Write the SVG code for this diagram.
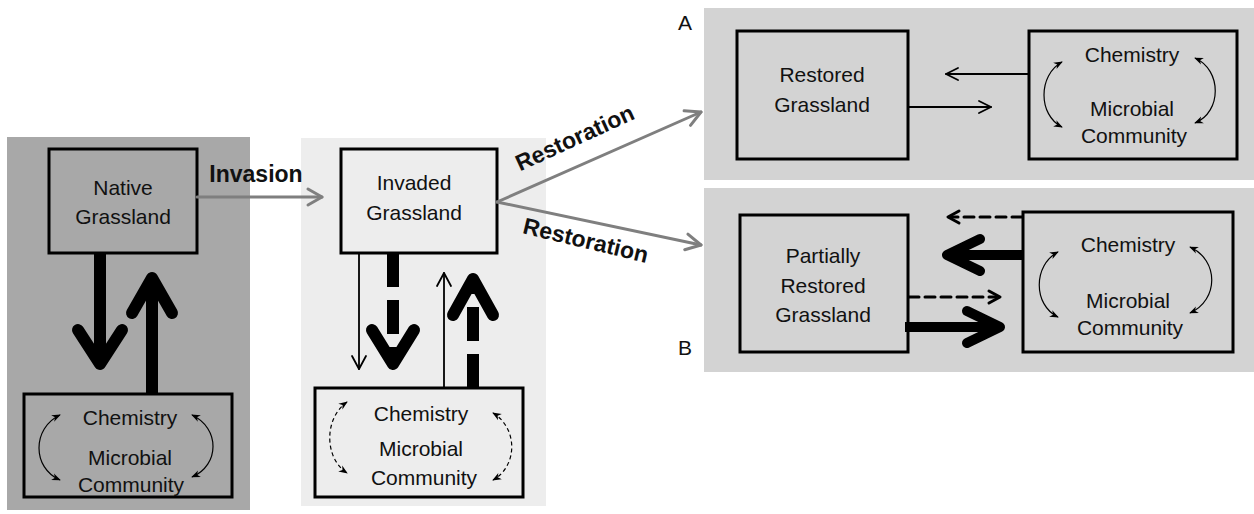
<svg xmlns="http://www.w3.org/2000/svg" width="1254" height="514" viewBox="0 0 1254 514">
<style>
  .t { font-family: "Liberation Sans", Arial, sans-serif; font-size: 21px; fill: #111; text-anchor: middle; }
  .b { font-family: "Liberation Sans", Arial, sans-serif; font-size: 23px; font-weight: bold; fill: #111; text-anchor: middle; }
  .lbl { font-family: "Liberation Sans", Arial, sans-serif; font-size: 21px; fill: #111; text-anchor: middle; }
  .box { fill: none; stroke: #000; stroke-width: 3; }
  .thin { fill: none; stroke: #000; stroke-width: 1.8; stroke-linecap: round; stroke-linejoin: round; }
  .thick { fill: none; stroke: #000; stroke-width: 12; stroke-linecap: round; stroke-linejoin: round; }
  .shaft { fill: none; stroke: #000; stroke-width: 12; }
  .dsh { stroke-dasharray: 34 13; }
  .gray { fill: none; stroke: #7f7f7f; stroke-width: 3; stroke-linecap: round; stroke-linejoin: round; }
  .curve { fill: none; stroke: #000; stroke-width: 1.2; marker-start: url(#ah); marker-end: url(#ah); }
  .dcurve { stroke-dasharray: 4 3; }
  .med { fill: none; stroke: #000; stroke-width: 3; stroke-linecap: round; stroke-linejoin: round; }
  .heavy { fill: none; stroke: #000; stroke-width: 10; stroke-linecap: round; stroke-linejoin: round; }
</style>
<defs>
  <marker id="ah" viewBox="0 0 10 10" refX="9" refY="5" markerWidth="9" markerHeight="9" markerUnits="userSpaceOnUse" orient="auto-start-reverse">
    <path d="M0,1 L10,5 L0,9 L3,5 z" fill="#000"/>
  </marker>
</defs>
<rect width="1254" height="514" fill="#fff"/>
<!-- panels -->
<rect id="panel-native" x="7" y="137" width="243" height="373" fill="#a8a8a8"/>
<rect id="panel-invaded" x="301" y="138" width="245" height="368" fill="#ededed"/>
<rect id="panel-A" x="704" y="8" width="550" height="172" fill="#d3d3d3"/>
<rect id="panel-B" x="704" y="188" width="550" height="184" fill="#d3d3d3"/>
<text class="lbl" x="685" y="30">A</text>
<text class="lbl" x="685" y="355">B</text>

<g id="native-grassland">
  <rect class="box" x="49" y="149" width="148" height="104"/>
  <text class="t" x="123" y="195">Native</text>
  <text class="t" x="123" y="224">Grassland</text>
</g>
<g id="native-soil">
  <rect class="box" x="24" y="394" width="208" height="103"/>
  <text class="t" x="130" y="425">Chemistry</text>
  <text class="t" x="130" y="465">Microbial</text>
  <text class="t" x="131" y="492">Community</text>
  <path class="curve" d="M60,415 C32,428 32,468 60,480"/>
  <path class="curve" d="M192,415 C220,428 220,465 192,477"/>
</g>
<g id="invaded-grassland">
  <rect class="box" x="341" y="149" width="156" height="104"/>
  <text class="t" x="414" y="190">Invaded</text>
  <text class="t" x="414" y="220">Grassland</text>
</g>
<g id="invaded-soil">
  <rect class="box" x="315" y="388" width="208" height="109"/>
  <text class="t" x="421" y="421">Chemistry</text>
  <text class="t" x="421" y="456">Microbial</text>
  <text class="t" x="424" y="485">Community</text>
  <path class="curve dcurve" d="M347,402 C324,418 324,458 347,473"/>
  <path class="curve dcurve" d="M493,413 C518,428 518,466 493,480"/>
</g>
<g id="restored-grassland">
  <rect class="box" x="737" y="31" width="171" height="128"/>
  <text class="t" x="822" y="82">Restored</text>
  <text class="t" x="822" y="112">Grassland</text>
</g>
<g id="restored-soil">
  <rect class="box" x="1029" y="31" width="208" height="128"/>
  <text class="t" x="1132" y="62">Chemistry</text>
  <text class="t" x="1132" y="116">Microbial</text>
  <text class="t" x="1134" y="143">Community</text>
  <path class="curve" d="M1062,62 C1038,75 1038,115 1062,127"/>
  <path class="curve" d="M1195,58 C1222,70 1222,112 1195,123"/>
</g>
<g id="partial-grassland">
  <rect class="box" x="740" y="215" width="168" height="137"/>
  <text class="t" x="823" y="263">Partially</text>
  <text class="t" x="823" y="293">Restored</text>
  <text class="t" x="823" y="322">Grassland</text>
</g>
<g id="partial-soil">
  <rect class="box" x="1023" y="212" width="210" height="140"/>
  <text class="t" x="1128" y="252">Chemistry</text>
  <text class="t" x="1128" y="308">Microbial</text>
  <text class="t" x="1130" y="335">Community</text>
  <path class="curve" d="M1058,252 C1033,265 1033,305 1058,317"/>
  <path class="curve" d="M1190,247 C1219,260 1219,300 1190,313"/>
</g>

<g id="connectors">
  <!-- Invasion -->
  <line class="gray" x1="197" y1="197" x2="322" y2="197"/>
  <polyline class="gray" points="308,189 322,197 308,205"/>
  <text class="b" x="256" y="182">Invasion</text>
  <!-- Restoration -->
  <line class="gray" x1="497" y1="202" x2="701" y2="112"/>
  <polyline class="gray" points="690.5,125.4 701,112 684.1,110.8"/>
  <line class="gray" x1="497" y1="202" x2="701" y2="245"/>
  <polyline class="gray" points="684.7,249.7 701,245 687.9,234.1"/>
  <text class="b" x="578" y="145" transform="rotate(-24.6 578 145)">Restoration</text>
  <text class="b" x="584" y="248" transform="rotate(13.5 584 248)">Restoration</text>

  <!-- Native feedback -->
  <line class="shaft" x1="100" y1="253" x2="100" y2="362"/>
  <polyline class="thick" points="78,330 100,364 122,330"/>
  <line class="shaft" x1="152" y1="394" x2="152" y2="280"/>
  <polyline class="thick" points="132,313 152,278 172,313"/>

  <!-- Invaded feedback -->
  <line class="thin" x1="359" y1="254" x2="359" y2="369"/>
  <polyline class="thin" points="352,356 359,369 366,356"/>
  <line class="shaft dsh" x1="393" y1="253" x2="393" y2="362"/>
  <polyline class="thick" points="372,330 393,364 414,330"/>
  <line class="thin" x1="444" y1="387" x2="444" y2="273"/>
  <polyline class="thin" points="437,286 444,273 451,286"/>
  <line class="shaft dsh" x1="473" y1="388" x2="473" y2="281"/>
  <polyline class="thick" points="453,315 473,279 493,315"/>

  <!-- Panel A -->
  <line class="thin" x1="1029" y1="74" x2="946" y2="74"/>
  <polyline class="thin" points="958,68 946,74 958,80"/>
  <line class="thin" x1="908" y1="107" x2="991" y2="107"/>
  <polyline class="thin" points="979,101 991,107 979,113"/>

  <!-- Panel B -->
  <line class="med" x1="1022" y1="217" x2="950" y2="217" stroke-dasharray="10 6" stroke-linecap="butt"/>
  <polyline class="med" points="959,211 948,217 959,223"/>
  <line x1="1022" y1="255" x2="950" y2="255" stroke="#000" stroke-width="10"/>
  <polyline class="heavy" points="980,239 947,255 980,271"/>
  <line class="med" x1="909" y1="297" x2="996" y2="297" stroke-dasharray="10 6" stroke-linecap="butt"/>
  <polyline class="med" points="989,291 1000,297 989,303"/>
  <line x1="905" y1="327" x2="996" y2="327" stroke="#000" stroke-width="10"/>
  <polyline class="heavy" points="967,311 1000,327 967,343"/>
</g>
</svg>
